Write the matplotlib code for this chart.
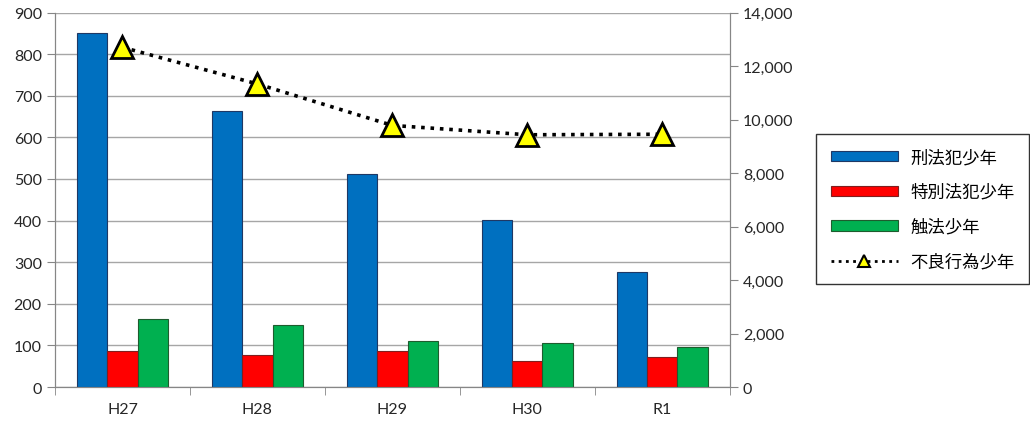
import numpy as np
import matplotlib.pyplot as plt
from matplotlib.patches import Patch
from matplotlib.lines import Line2D

plt.rcParams['font.family'] = ['Lato', 'Noto Sans CJK JP', 'DejaVu Sans']

# --- data ---
years = ['H27', 'H28', 'H29', 'H30', 'R1']
keiho = [850, 664, 512, 402, 277]          # 刑法犯少年 (left axis)
tokubetsu = [87, 77, 87, 63, 71]           # 特別法犯少年 (left axis)
shokuho = [164, 149, 111, 106, 95]         # 触法少年 (left axis)
furyo = [12700, 11330, 9780, 9430, 9450]   # 不良行為少年 (right axis)

labels = ['刑法犯少年', '特別法犯少年', '触法少年', '不良行為少年']
colors = ['#0070C0', '#FF0000', '#00B050']
edges = ['#1F3864', '#7F1F1F', '#1E5C2E']
grid_c = '#A6A6A6'
axis_c = '#868686'

fig = plt.figure(figsize=(10.3, 4.27), dpi=100)
ax = fig.add_axes([0.0534, 0.0913, 0.655, 0.877])
ax2 = ax.twinx()

x = np.arange(len(years))
w = 0.225
for k, (vals, c, e) in enumerate(zip([keiho, tokubetsu, shokuho], colors, edges)):
    ax.bar(x + (k - 1) * w, vals, w, color=c, edgecolor=e, linewidth=0.8, zorder=3)

ax2.plot(x, furyo, color='black', linestyle=(0, (1, 1.6)), linewidth=2.6,
         marker='^', markersize=16, markerfacecolor='#FFFF00',
         markeredgecolor='black', markeredgewidth=2, zorder=4)

ax.set_xlim(-0.5, len(years) - 0.5)
ax.set_ylim(0, 900)
ax.set_yticks(range(0, 901, 100))
ax2.set_ylim(0, 14000)
ax2.set_yticks(range(0, 14001, 2000))
ax2.set_yticklabels([f'{v:,}' for v in range(0, 14001, 2000)])

ax.set_xticks(x)
ax.set_xticklabels(years)
ax.set_xticks(np.arange(-0.5, len(years), 1), minor=True)
ax.tick_params(axis='x', which='major', length=0, pad=11, labelsize=11.5, colors='#262626')
ax.tick_params(axis='x', which='minor', length=6, color=axis_c, direction='out')
ax.tick_params(axis='y', length=6, color=axis_c, labelsize=11.5, labelcolor='#262626')
ax2.tick_params(axis='y', length=6, color=axis_c, labelsize=11.5, labelcolor='#262626')

ax.yaxis.grid(True, color=grid_c, linewidth=1)
ax.set_axisbelow(True)
for a in (ax, ax2):
    for s in ('left', 'right', 'bottom'):
        a.spines[s].set_color(axis_c)
    a.spines['top'].set_visible(False)

handles = [Patch(facecolor=c, edgecolor=e, linewidth=0.8) for c, e in zip(colors, edges)]
handles.append(Line2D([0], [0], color='black', linestyle=(0, (1, 1.6)), linewidth=2,
                      marker='^', markersize=8, markerfacecolor='#FFFF00',
                      markeredgecolor='black', markeredgewidth=1.5))
leg = fig.legend(handles, labels, loc='upper left', bbox_to_anchor=(0.792, 0.684),
                 fontsize=12.5, frameon=True, fancybox=False, edgecolor='black',
                 handlelength=3.9, handleheight=0.55, handletextpad=0.7,
                 labelspacing=1.05, borderpad=0.85, borderaxespad=0)
leg.get_frame().set_linewidth(1)

fig.savefig('out.png', dpi=100)
